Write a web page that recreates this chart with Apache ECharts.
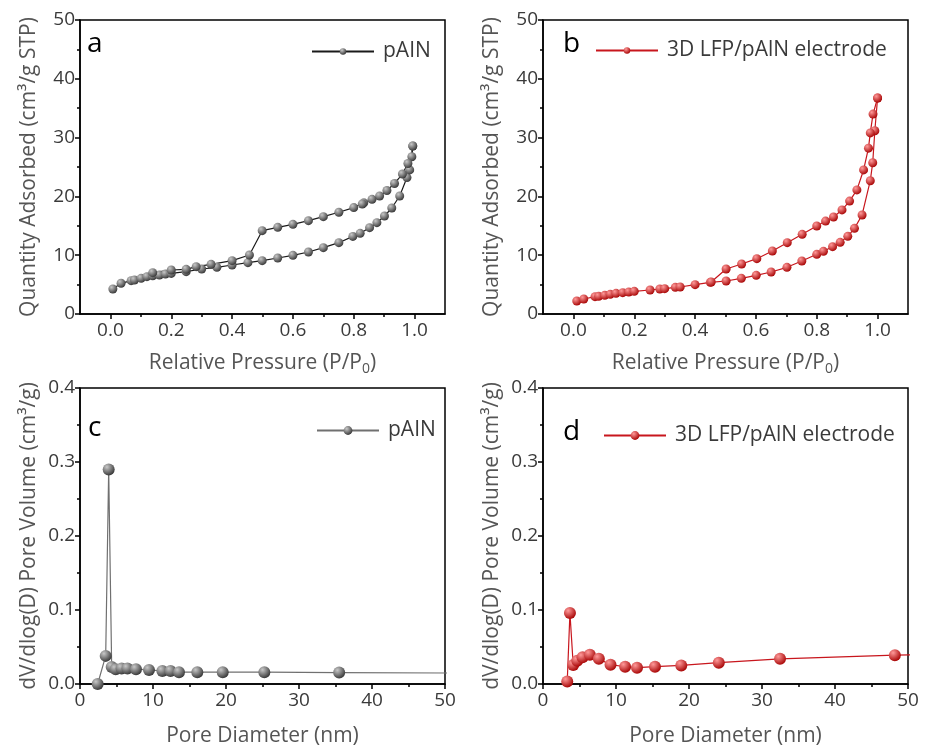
<!DOCTYPE html>
<html>
<head>
<meta charset="utf-8">
<title>pAlN isotherms</title>
<script src="https://cdn.jsdelivr.net/npm/echarts@6/dist/echarts.min.js"></script>
<style>
  html, body { margin: 0; padding: 0; background: #fff; }
  #chart { width: 925px; height: 751px; }
</style>
</head>
<body>
<div id="chart"></div>
<script>
// a: pAlN isotherm (adsorption / desorption)
var aAdsP = [0.008, 0.035, 0.068, 0.079, 0.101, 0.12, 0.139, 0.161, 0.181, 0.2, 0.249, 0.30, 0.35, 0.40, 0.452, 0.499, 0.55, 0.60, 0.651, 0.70, 0.751, 0.797, 0.821, 0.852, 0.876, 0.901, 0.925, 0.951, 0.975, 0.984, 0.994];
var aAdsQ = [4.25, 5.22, 5.67, 5.78, 6.07, 6.35, 6.5, 6.63, 6.8, 6.9, 7.2, 7.65, 7.94, 8.33, 8.73, 9.07, 9.52, 9.98, 10.54, 11.28, 12.13, 13.2, 13.72, 14.68, 15.53, 16.67, 18.03, 20.07, 23.2, 24.5, 28.57];
var aDesP = [0.994, 0.991, 0.978, 0.96, 0.934, 0.909, 0.885, 0.86, 0.833, 0.828, 0.80, 0.751, 0.70, 0.651, 0.60, 0.55, 0.499, 0.457, 0.40, 0.331, 0.282, 0.249, 0.2, 0.139];
var aDesQ = [28.57, 26.75, 25.6, 23.8, 22.2, 21.0, 20.07, 19.5, 18.9, 18.7, 18.1, 17.3, 16.55, 15.87, 15.25, 14.74, 14.17, 10.03, 9.07, 8.45, 8.05, 7.6, 7.48, 7.03];

// b: 3D LFP/pAlN electrode isotherm
var bAdsP = [0.011, 0.034, 0.071, 0.083, 0.103, 0.121, 0.14, 0.162, 0.182, 0.20, 0.252, 0.284, 0.30, 0.335, 0.351, 0.40, 0.45, 0.502, 0.552, 0.601, 0.65, 0.702, 0.751, 0.80, 0.822, 0.852, 0.877, 0.902, 0.924, 0.949, 0.976, 0.984, 0.991, 1.0];
var bAdsQ = [2.21, 2.55, 2.95, 3.0, 3.17, 3.34, 3.51, 3.63, 3.74, 3.85, 4.08, 4.25, 4.31, 4.53, 4.59, 4.99, 5.38, 5.61, 6.07, 6.58, 7.14, 7.94, 9.01, 10.15, 10.66, 11.45, 12.19, 13.21, 14.57, 16.84, 22.67, 25.73, 31.17, 36.73];
var bDesP = [1.0, 0.985, 0.976, 0.97, 0.954, 0.932, 0.908, 0.883, 0.855, 0.829, 0.80, 0.752, 0.703, 0.654, 0.603, 0.553, 0.502, 0.453];
var bDesQ = [36.73, 34.0, 30.8, 28.2, 24.5, 21.1, 19.2, 17.7, 16.5, 15.8, 14.97, 13.55, 12.13, 10.71, 9.41, 8.5, 7.65, 5.44];

// c / d: pore size distributions
var cD = [2.42, 3.52, 3.93, 4.34, 4.89, 5.7, 6.5, 7.67, 9.45, 11.28, 12.4, 13.56, 16.07, 19.55, 25.25, 35.5, 60];
var cV = [0.0, 0.038, 0.29, 0.023, 0.020, 0.021, 0.021, 0.020, 0.019, 0.0176, 0.0176, 0.016, 0.016, 0.016, 0.016, 0.0155, 0.0145];
var dD = [3.32, 3.69, 4.14, 4.69, 5.42, 6.42, 7.65, 9.25, 11.25, 12.88, 15.34, 18.94, 24.08, 32.47, 48.2, 60];
var dV = [0.0035, 0.096, 0.0257, 0.0315, 0.036, 0.0396, 0.034, 0.026, 0.0234, 0.022, 0.0234, 0.0251, 0.0288, 0.034, 0.039, 0.0405];

var pMajor = [0, 0.2, 0.4, 0.6, 0.8, 1.0];
var pMinor = [0.1, 0.3, 0.5, 0.7, 0.9];

var FONT = 'Open Sans';
var chart = echarts.init(document.getElementById('chart'));

function zip(xs, ys) {
  return xs.map(function (x, i) { return [x, ys[i]]; });
}
function ball(light, dark) {
  return new echarts.graphic.RadialGradient(0.35, 0.3, 0.75, [
    { offset: 0, color: light }, { offset: 1, color: dark }
  ]);
}
var greyBall = ball('#c8c8c8', '#333');
var redBall = ball('#ff9a9a', '#a50000');

var grids = [
  { left: 80, top: 20, width: 365, height: 294 },
  { left: 543, top: 20, width: 365, height: 294 },
  { left: 80, top: 388, width: 365, height: 296 },
  { left: 543, top: 388, width: 365, height: 296 }
];
grids.forEach(function (g) {
  g.show = true; g.borderColor = '#000'; g.borderWidth = 1.5; g.backgroundColor = 'transparent';
});

var axLine = { show: true, onZero: false, lineStyle: { color: '#000', width: 1.5 } };
var lbl = { color: '#3a3a3a', fontSize: 19, fontFamily: FONT };
var nameStyle = { color: '#555', fontSize: 21, fontFamily: FONT };
var rich = {
  t: { color: '#555', fontSize: 21, fontFamily: FONT },
  s: { color: '#555', fontSize: 14, fontFamily: FONT, verticalAlign: 'bottom', padding: [12, 0, 0, 0] }
};

// xAxis 0,1: panels a,b (labels + major ticks); 2,3: minor ticks of a,b; 4,5: panels c,d
var xAxes = [], yAxes = [];
[0, 1].forEach(function (i) {
  xAxes.push({
    type: 'value', gridIndex: i, min: -0.1, max: 1.1, position: 'bottom',
    name: '{t|Relative Pressure (P/P}{s|0}{t|)}', nameLocation: 'middle', nameGap: 36,
    nameTextStyle: { rich: rich },
    axisLine: axLine,
    axisTick: { show: true, length: 5, lineStyle: { color: '#000', width: 1.5 }, customValues: pMajor },
    axisLabel: Object.assign({ margin: 7, customValues: pMajor, formatter: function (v) { return v.toFixed(1); } }, lbl),
    splitLine: { show: false }
  });
});
[0, 1].forEach(function (i) {
  xAxes.push({
    type: 'value', gridIndex: i, min: -0.1, max: 1.1, position: 'bottom',
    axisLine: { show: false },
    axisTick: { show: true, length: 3, lineStyle: { color: '#000', width: 1.5 }, customValues: pMinor },
    axisLabel: { show: false, customValues: pMinor },
    splitLine: { show: false }
  });
});
[2, 3].forEach(function (i) {
  xAxes.push({
    type: 'value', gridIndex: i, min: 0, max: 50, interval: 10,
    name: 'Pore Diameter (nm)', nameLocation: 'middle', nameGap: 42, nameTextStyle: nameStyle,
    axisLine: axLine,
    axisTick: { show: true, length: 5, lineStyle: { color: '#000', width: 1.5 } },
    minorTick: { show: true, splitNumber: 2, length: 3, lineStyle: { color: '#000', width: 1.5 } },
    axisLabel: Object.assign({ margin: 7 }, lbl),
    splitLine: { show: false }
  });
});
[0, 1].forEach(function (i) {
  yAxes.push({
    type: 'value', gridIndex: i, min: 0, max: 50, interval: 10,
    name: 'Quantity Adsorbed (cm³/g STP)', nameLocation: 'middle', nameGap: 40, nameTextStyle: nameStyle,
    axisLine: axLine,
    axisTick: { show: true, length: 5, lineStyle: { color: '#000', width: 1.5 } },
    minorTick: { show: true, splitNumber: 2, length: 3, lineStyle: { color: '#000', width: 1.5 } },
    axisLabel: Object.assign({ margin: 5 }, lbl),
    splitLine: { show: false }
  });
});
[2, 3].forEach(function (i) {
  yAxes.push({
    type: 'value', gridIndex: i, min: 0, max: 0.4, interval: 0.1,
    name: 'dV/dlog(D) Pore Volume (cm³/g)', nameLocation: 'middle', nameGap: 40, nameTextStyle: nameStyle,
    axisLine: axLine,
    axisTick: { show: true, length: 5, lineStyle: { color: '#000', width: 1.5 } },
    minorTick: { show: true, splitNumber: 2, length: 3, lineStyle: { color: '#000', width: 1.5 } },
    axisLabel: Object.assign({ margin: 5, formatter: function (v) { return v.toFixed(1); } }, lbl),
    splitLine: { show: false }
  });
});

function line(name, xi, yi, data, lineColor, sym, size) {
  return {
    name: name, type: 'line', xAxisIndex: xi, yAxisIndex: yi, data: data,
    symbol: 'circle', symbolSize: size, clip: true,
    lineStyle: { color: lineColor, width: 1.2 },
    itemStyle: { color: sym, borderWidth: 0 },
    emphasis: { disabled: true }
  };
}

var series = [
  line('pAIN', 0, 0, zip(aAdsP, aAdsQ), '#1a1a1a', greyBall, 9),
  line('pAIN', 0, 0, zip(aDesP, aDesQ), '#1a1a1a', greyBall, 9),
  line('3D LFP/pAlN electrode', 1, 1, zip(bAdsP, bAdsQ), '#c8161d', redBall, 9),
  line('3D LFP/pAlN electrode', 1, 1, zip(bDesP, bDesQ), '#c8161d', redBall, 9),
  line('pAIN ', 4, 2, zip(cD, cV), '#707070', greyBall, 12),
  line('3D LFP/pAlN electrode ', 5, 3, zip(dD, dV), '#c8161d', redBall, 12)
];

function leg(name, left, top, h) {
  return {
    data: [name], left: left, top: top, itemWidth: 62, itemHeight: h, itemGap: 0,
    selectedMode: false,
    textStyle: { color: '#3a3a3a', fontSize: 21, fontFamily: FONT, padding: [0, 0, 0, 4] }
  };
}

chart.setOption({
  animation: false,
  grid: grids,
  xAxis: xAxes,
  yAxis: yAxes,
  legend: [
    leg('pAIN', 306, 36, 8),
    leg('3D LFP/pAlN electrode', 590, 35, 8),
    leg('pAIN ', 311, 415, 11),
    leg('3D LFP/pAlN electrode ', 598, 420, 11)
  ],
  graphic: [
    { type: 'text', left: 87, top: 30, style: { text: 'a', fontSize: 28, fontFamily: FONT, fill: '#000' } },
    { type: 'text', left: 563, top: 30, style: { text: 'b', fontSize: 28, fontFamily: FONT, fill: '#000' } },
    { type: 'text', left: 88, top: 414, style: { text: 'c', fontSize: 28, fontFamily: FONT, fill: '#000' } },
    { type: 'text', left: 563, top: 418, style: { text: 'd', fontSize: 28, fontFamily: FONT, fill: '#000' } }
  ],
  series: series
});
</script>
</body>
</html>
